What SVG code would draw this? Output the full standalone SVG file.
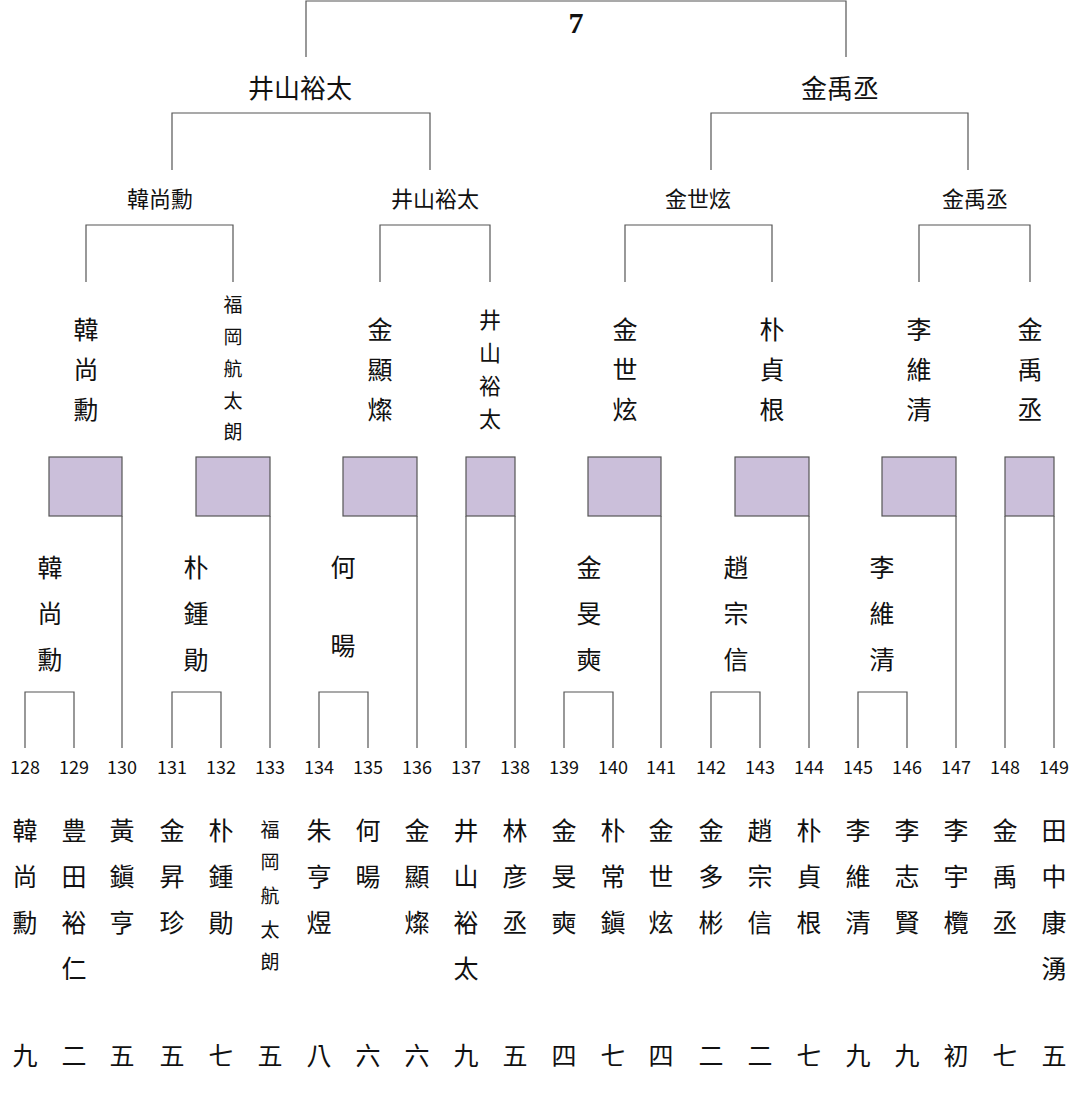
<svg xmlns="http://www.w3.org/2000/svg" width="1080" height="1093" viewBox="0 0 1080 1093">
<style>
text{font-family:"Noto Sans CJK TC","Liberation Serif",serif;fill:#111;text-anchor:middle}
.n{font-family:"Liberation Serif",serif;font-size:18px}
.seven{font-family:"Liberation Serif",serif;font-size:30px;font-weight:bold}
.b{font-size:25px}
.s{font-size:19px}
.h{font-size:22px}
.t{font-size:26px}
line,polyline{stroke:#555;stroke-width:1.2;fill:none}
.box{fill:#cbbfda;stroke:#555;stroke-width:1.2}
</style>
<rect width="1080" height="1093" fill="#fff"/>
<g id="connectors">
<polyline points="306,57 306,1 846,1 846,57"/>
<polyline points="172,170 172,113 430,113 430,170"/>
<polyline points="711,170 711,113 968,113 968,170"/>
<polyline points="86,282 86,225 233,225 233,282"/>
<polyline points="380,282 380,225 490,225 490,282"/>
<polyline points="625,282 625,225 772,225 772,282"/>
<polyline points="919,282 919,225 1030,225 1030,282"/>
<polyline points="25,748 25,692 74,692 74,748"/>
<polyline points="172,748 172,692 221,692 221,748"/>
<polyline points="319,748 319,692 368,692 368,748"/>
<polyline points="564,748 564,692 613,692 613,748"/>
<polyline points="711,748 711,692 760,692 760,748"/>
<polyline points="858,748 858,692 907,692 907,748"/>
<g>
<rect class="box" x="49" y="457" width="73" height="59"/><line x1="122" y1="516" x2="122" y2="748"/>
<rect class="box" x="196" y="457" width="74" height="59"/><line x1="270" y1="516" x2="270" y2="748"/>
<rect class="box" x="343" y="457" width="74" height="59"/><line x1="417" y1="516" x2="417" y2="748"/>
<rect class="box" x="466" y="457" width="49" height="59"/><line x1="466" y1="516" x2="466" y2="748"/><line x1="515" y1="516" x2="515" y2="748"/>
<rect class="box" x="588" y="457" width="73" height="59"/><line x1="661" y1="516" x2="661" y2="748"/>
<rect class="box" x="735" y="457" width="74" height="59"/><line x1="809" y1="516" x2="809" y2="748"/>
<rect class="box" x="882" y="457" width="74" height="59"/><line x1="956" y1="516" x2="956" y2="748"/>
<rect class="box" x="1005" y="457" width="49" height="59"/><line x1="1005" y1="516" x2="1005" y2="748"/><line x1="1054" y1="516" x2="1054" y2="748"/>
</g>
</g>
<g id="final"><text class="seven" x="576" y="33">7</text></g>
<g id="semis">
<text class="t" x="300" y="98">井山裕太</text>
<text class="t" x="840" y="98">金禹丞</text>
</g>
<g id="quarters">
<text class="h" x="160" y="207">韓尚勳</text>
<text class="h" x="435" y="207">井山裕太</text>
<text class="h" x="698" y="207">金世炫</text>
<text class="h" x="975" y="207">金禹丞</text>
</g>
<g id="r16" class="b">
<text x="86" y="339"><tspan x="86">韓</tspan><tspan x="86" dy="40">尚</tspan><tspan x="86" dy="40">勳</tspan></text>
<text class="s" x="233" y="312"><tspan x="233">福</tspan><tspan x="233" dy="32">岡</tspan><tspan x="233" dy="32">航</tspan><tspan x="233" dy="32">太</tspan><tspan x="233" dy="31">朗</tspan></text>
<text x="380" y="339"><tspan x="380">金</tspan><tspan x="380" dy="40">顯</tspan><tspan x="380" dy="40">燦</tspan></text>
<text class="h" x="490" y="328"><tspan x="490">井</tspan><tspan x="490" dy="33">山</tspan><tspan x="490" dy="33">裕</tspan><tspan x="490" dy="33">太</tspan></text>
<text x="625" y="339"><tspan x="625">金</tspan><tspan x="625" dy="40">世</tspan><tspan x="625" dy="40">炫</tspan></text>
<text x="772" y="339"><tspan x="772">朴</tspan><tspan x="772" dy="40">貞</tspan><tspan x="772" dy="40">根</tspan></text>
<text x="919" y="339"><tspan x="919">李</tspan><tspan x="919" dy="40">維</tspan><tspan x="919" dy="40">清</tspan></text>
<text x="1030" y="339"><tspan x="1030">金</tspan><tspan x="1030" dy="40">禹</tspan><tspan x="1030" dy="40">丞</tspan></text>
</g>
<g id="r32" class="b">
<text x="50" y="577"><tspan x="50">韓</tspan><tspan x="50" dy="46">尚</tspan><tspan x="50" dy="46">勳</tspan></text>
<text x="196" y="577"><tspan x="196">朴</tspan><tspan x="196" dy="46">鍾</tspan><tspan x="196" dy="46">勛</tspan></text>
<text x="343" y="577"><tspan x="343">何</tspan><tspan x="343" dy="78">暘</tspan></text>
<text x="589" y="577"><tspan x="589">金</tspan><tspan x="589" dy="46">旻</tspan><tspan x="589" dy="46">奭</tspan></text>
<text x="736" y="577"><tspan x="736">趙</tspan><tspan x="736" dy="46">宗</tspan><tspan x="736" dy="46">信</tspan></text>
<text x="882" y="577"><tspan x="882">李</tspan><tspan x="882" dy="46">維</tspan><tspan x="882" dy="46">清</tspan></text>
</g>
<g id="seeds" class="n">
<text x="25" y="774">128</text><text x="74" y="774">129</text><text x="122" y="774">130</text><text x="172" y="774">131</text><text x="221" y="774">132</text><text x="270" y="774">133</text><text x="319" y="774">134</text><text x="368" y="774">135</text><text x="417" y="774">136</text><text x="466" y="774">137</text><text x="515" y="774">138</text><text x="564" y="774">139</text><text x="613" y="774">140</text><text x="661" y="774">141</text><text x="711" y="774">142</text><text x="760" y="774">143</text><text x="809" y="774">144</text><text x="858" y="774">145</text><text x="907" y="774">146</text><text x="956" y="774">147</text><text x="1005" y="774">148</text><text x="1054" y="774">149</text>
</g>
<g id="players" class="b">
<text x="25" y="840"><tspan x="25">韓</tspan><tspan x="25" dy="46">尚</tspan><tspan x="25" dy="46">勳</tspan></text>
<text x="74" y="840"><tspan x="74">豊</tspan><tspan x="74" dy="46">田</tspan><tspan x="74" dy="46">裕</tspan><tspan x="74" dy="46">仁</tspan></text>
<text x="122" y="840"><tspan x="122">黃</tspan><tspan x="122" dy="46">鎭</tspan><tspan x="122" dy="46">亨</tspan></text>
<text x="172" y="840"><tspan x="172">金</tspan><tspan x="172" dy="46">昇</tspan><tspan x="172" dy="46">珍</tspan></text>
<text x="221" y="840"><tspan x="221">朴</tspan><tspan x="221" dy="46">鍾</tspan><tspan x="221" dy="46">勛</tspan></text>
<text class="s" x="270" y="837"><tspan x="270">福</tspan><tspan x="270" dy="32">岡</tspan><tspan x="270" dy="34">航</tspan><tspan x="270" dy="34">太</tspan><tspan x="270" dy="32">朗</tspan></text>
<text x="319" y="840"><tspan x="319">朱</tspan><tspan x="319" dy="46">亨</tspan><tspan x="319" dy="46">煜</tspan></text>
<text x="368" y="840"><tspan x="368">何</tspan><tspan x="368" dy="46">暘</tspan></text>
<text x="417" y="840"><tspan x="417">金</tspan><tspan x="417" dy="46">顯</tspan><tspan x="417" dy="46">燦</tspan></text>
<text x="466" y="840"><tspan x="466">井</tspan><tspan x="466" dy="46">山</tspan><tspan x="466" dy="46">裕</tspan><tspan x="466" dy="46">太</tspan></text>
<text x="515" y="840"><tspan x="515">林</tspan><tspan x="515" dy="46">彦</tspan><tspan x="515" dy="46">丞</tspan></text>
<text x="564" y="840"><tspan x="564">金</tspan><tspan x="564" dy="46">旻</tspan><tspan x="564" dy="46">奭</tspan></text>
<text x="613" y="840"><tspan x="613">朴</tspan><tspan x="613" dy="46">常</tspan><tspan x="613" dy="46">鎭</tspan></text>
<text x="661" y="840"><tspan x="661">金</tspan><tspan x="661" dy="46">世</tspan><tspan x="661" dy="46">炫</tspan></text>
<text x="711" y="840"><tspan x="711">金</tspan><tspan x="711" dy="46">多</tspan><tspan x="711" dy="46">彬</tspan></text>
<text x="760" y="840"><tspan x="760">趙</tspan><tspan x="760" dy="46">宗</tspan><tspan x="760" dy="46">信</tspan></text>
<text x="809" y="840"><tspan x="809">朴</tspan><tspan x="809" dy="46">貞</tspan><tspan x="809" dy="46">根</tspan></text>
<text x="858" y="840"><tspan x="858">李</tspan><tspan x="858" dy="46">維</tspan><tspan x="858" dy="46">清</tspan></text>
<text x="907" y="840"><tspan x="907">李</tspan><tspan x="907" dy="46">志</tspan><tspan x="907" dy="46">賢</tspan></text>
<text x="956" y="840"><tspan x="956">李</tspan><tspan x="956" dy="46">宇</tspan><tspan x="956" dy="46">欖</tspan></text>
<text x="1005" y="840"><tspan x="1005">金</tspan><tspan x="1005" dy="46">禹</tspan><tspan x="1005" dy="46">丞</tspan></text>
<text x="1054" y="840"><tspan x="1054">田</tspan><tspan x="1054" dy="46">中</tspan><tspan x="1054" dy="46">康</tspan><tspan x="1054" dy="46">湧</tspan></text>
</g>
<g id="ranks" class="b">
<text x="25" y="1065">九</text><text x="74" y="1065">二</text><text x="122" y="1065">五</text><text x="172" y="1065">五</text><text x="221" y="1065">七</text><text x="270" y="1065">五</text><text x="319" y="1065">八</text><text x="368" y="1065">六</text><text x="417" y="1065">六</text><text x="466" y="1065">九</text><text x="515" y="1065">五</text><text x="564" y="1065">四</text><text x="613" y="1065">七</text><text x="661" y="1065">四</text><text x="711" y="1065">二</text><text x="760" y="1065">二</text><text x="809" y="1065">七</text><text x="858" y="1065">九</text><text x="907" y="1065">九</text><text x="956" y="1065">初</text><text x="1005" y="1065">七</text><text x="1054" y="1065">五</text>
</g>
</svg>
